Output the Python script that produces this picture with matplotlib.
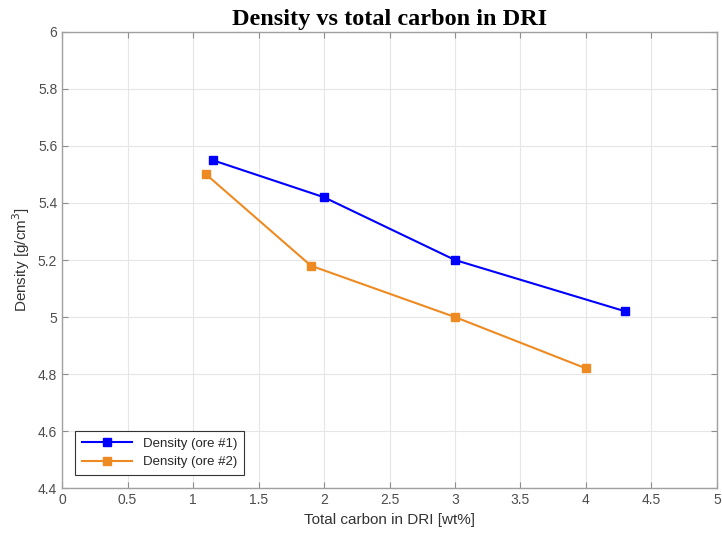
import matplotlib.pyplot as plt

carbon_ore1 = [1.15, 2.0, 3.0, 4.3]
density_ore1 = [5.55, 5.42, 5.20, 5.02]
carbon_ore2 = [1.1, 1.9, 3.0, 4.0]
density_ore2 = [5.50, 5.18, 5.00, 4.82]

xticks = [0, 0.5, 1, 1.5, 2, 2.5, 3, 3.5, 4, 4.5, 5]
xticklabels = ['0', '0.5', '1', '1.5', '2', '2.5', '3', '3.5', '4', '4.5', '5']
yticks = [4.4, 4.6, 4.8, 5.0, 5.2, 5.4, 5.6, 5.8, 6.0]
yticklabels = ['4.4', '4.6', '4.8', '5', '5.2', '5.4', '5.6', '5.8', '6']

plt.rcParams['font.family'] = ['Liberation Sans', 'DejaVu Sans']

fig = plt.figure(figsize=(7.22, 5.40), dpi=100)
ax = fig.add_axes([0.086, 0.096, 0.907, 0.845])

ax.plot(carbon_ore1, density_ore1, '-s', color='#0000ff', lw=1.5, ms=6,
        label='Density (ore #1)')
ax.plot(carbon_ore2, density_ore2, '-s', color='#ee8a22', lw=1.5, ms=6,
        label='Density (ore #2)')

ax.set_xlim(0, 5)
ax.set_ylim(4.4, 6)
ax.set_xticks(xticks)
ax.set_xticklabels(xticklabels)
ax.set_yticks(yticks)
ax.set_yticklabels(yticklabels)
ax.grid(True, color='#e6e6e6', lw=0.8)
ax.set_axisbelow(True)
ax.tick_params(direction='in', top=True, right=True, colors='#8c8c8c',
               labelcolor='#4d4d4d', labelsize=10, length=4)
for s in ax.spines.values():
    s.set_color('#a0a0a0')
    s.set_linewidth(1.0)

ax.set_xlabel('Total carbon in DRI [wt%]', fontsize=11, color='#333333')
ax.set_ylabel('Density [g/cm$^3$]', fontsize=11, color='#333333')
ax.set_title('Density vs total carbon in DRI', family='Liberation Serif',
             fontweight='bold', fontsize=17.5, pad=5)

leg = ax.legend(loc='lower left', fontsize=9.5, fancybox=False,
                framealpha=1, borderaxespad=1.0, handlelength=3.8,
                borderpad=0.5)
leg.get_frame().set_edgecolor('#333333')
leg.get_frame().set_linewidth(0.8)
for t in leg.get_texts():
    t.set_color('#262626')

fig.savefig('out.png', dpi=100)
